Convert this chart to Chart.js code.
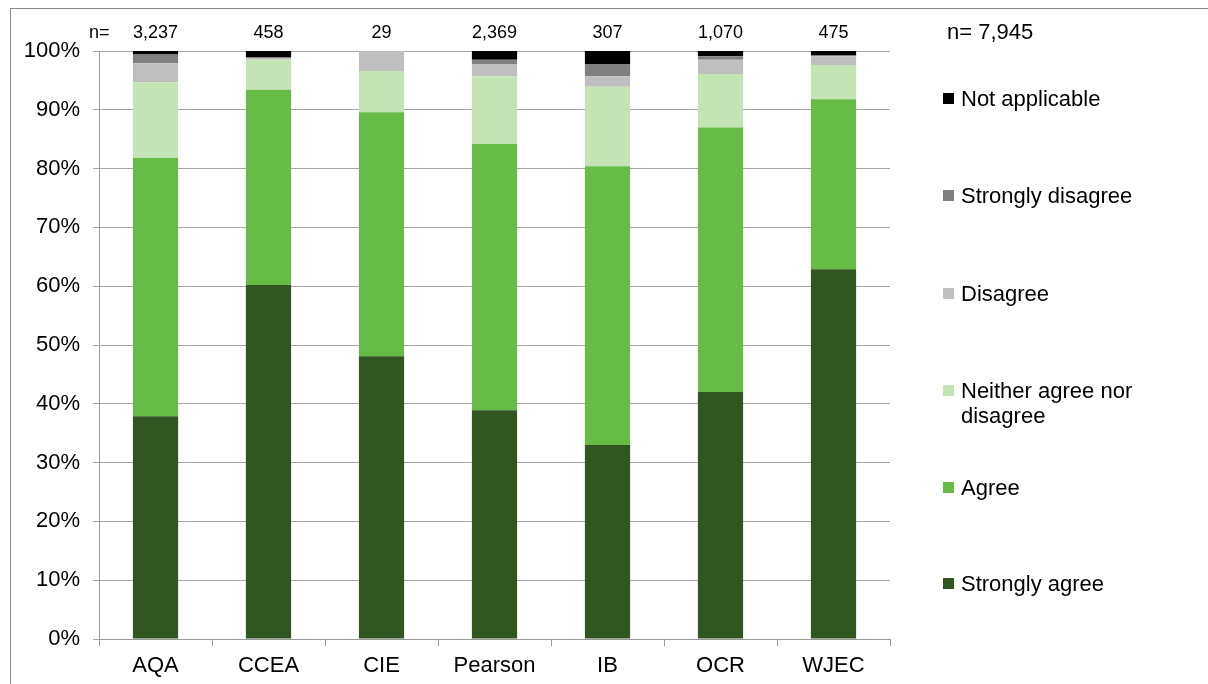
<!DOCTYPE html>
<html>
<head>
<meta charset="utf-8">
<script src="https://cdn.jsdelivr.net/npm/chart.js@4/dist/chart.umd.min.js"></script>
<style>
  html, body { margin: 0; padding: 0; background: #fff; overflow: hidden; }
  #wrap { position: relative; width: 1208px; height: 684px; }
  #frame { position: absolute; left: 10px; top: 8px; width: 1300px; height: 800px; border: 1px solid #888; box-sizing: border-box; }
  canvas { position: absolute; left: 0; top: 0; }
</style>
</head>
<body>
<div id="wrap">
  <div id="frame"></div>
  <canvas id="chart" width="1208" height="684"></canvas>
</div>
<script>
// categories and sample sizes
const boards = ["AQA", "CCEA", "CIE", "Pearson", "IB", "OCR", "WJEC"];
const sampleSizes = ["3,237", "458", "29", "2,369", "307", "1,070", "475"];
const totalN = "7,945";

// percentages per response
const stronglyAgree    = [37.9, 60.2, 48.1, 38.9, 33.0, 42.0, 62.9];
const agree            = [43.9, 33.2, 41.5, 45.3, 47.4, 45.0, 28.9];
const neither          = [12.9,  5.1,  7.0, 11.5, 13.5,  9.1,  5.8];
const disagree         = [ 3.2,  0.3,  3.4,  2.1,  1.8,  2.4,  1.5];
const stronglyDisagree = [ 1.5,  0.2,  0.0,  0.7,  2.0,  0.6,  0.2];
const notApplicable    = [ 0.6,  1.0,  0.0,  1.5,  2.3,  0.9,  0.7];

const yTicks = [0, 10, 20, 30, 40, 50, 60, 70, 80, 90, 100];

const series = [
  { label: "Strongly agree", data: stronglyAgree, color: "#31561f" },
  { label: "Agree", data: agree, color: "#67bb47" },
  { label: "Neither agree nor|disagree", data: neither, color: "#c4e4b5" },
  { label: "Disagree", data: disagree, color: "#bfbfbf" },
  { label: "Strongly disagree", data: stronglyDisagree, color: "#808080" },
  { label: "Not applicable", data: notApplicable, color: "#000000" }
];

const FONT = "'Liberation Sans', Arial, sans-serif";

// n= labels above bars and the side legend
const extrasPlugin = {
  id: "extras",
  afterDraw(chart) {
    const ctx = chart.ctx;
    const x = chart.scales.x;
    ctx.save();
    ctx.fillStyle = "#000";
    ctx.textBaseline = "middle";
    ctx.font = "18px " + FONT;
    ctx.textAlign = "left";
    ctx.fillText("n=", 89, 33);
    ctx.textAlign = "center";
    sampleSizes.forEach((n, i) => {
      ctx.fillText(n, x.getPixelForValue(i), 33);
    });
    ctx.font = "22px " + FONT;
    ctx.textAlign = "left";
    ctx.fillText("n= " + totalN, 947, 33);

    // legend, reversed order, evenly spaced
    const legendY = [584, 488, 391, 294, 196, 99];
    ctx.font = "22px " + FONT;
    series.forEach((s, i) => {
      const y = legendY[i];
      ctx.fillStyle = s.color;
      ctx.fillRect(943, y - 6, 11, 11);
      ctx.fillStyle = "#000";
      s.label.split("|").forEach((line, j) => {
        ctx.fillText(line, 961, y + 1 + j * 25);
      });
    });
    ctx.restore();
  }
};

new Chart(document.getElementById("chart"), {
  type: "bar",
  data: {
    labels: boards,
    datasets: series.map(s => ({
      label: s.label,
      data: s.data,
      backgroundColor: s.color,
      borderWidth: 0,
      categoryPercentage: 1.0,
      barPercentage: 0.4
    }))
  },
  options: {
    responsive: false,
    animation: false,
    devicePixelRatio: 1,
    layout: { padding: { left: 0, top: 51, right: 318, bottom: 0 } },
    plugins: { legend: { display: false }, tooltip: { enabled: false } },
    scales: {
      x: {
        stacked: true,
        afterFit: s => { s.height = 45; },
        grid: { offset: true, drawOnChartArea: false, tickLength: 7, color: "#9a9a9a" },
        border: { color: "#9a9a9a" },
        ticks: { color: "#000", padding: 7, font: { family: FONT, size: 22 } }
      },
      y: {
        stacked: true,
        min: 0,
        max: 100,
        afterFit: s => { s.width = 99; },
        afterBuildTicks: s => { s.ticks = yTicks.map(v => ({ value: v })); },
        grid: { color: "#a6a6a6", tickLength: 6 },
        border: { color: "#9a9a9a" },
        ticks: {
          color: "#000",
          padding: 13,
          font: { family: FONT, size: 22 },
          callback: v => v + "%"
        }
      }
    }
  },
  plugins: [extrasPlugin]
});
</script>
</body>
</html>
